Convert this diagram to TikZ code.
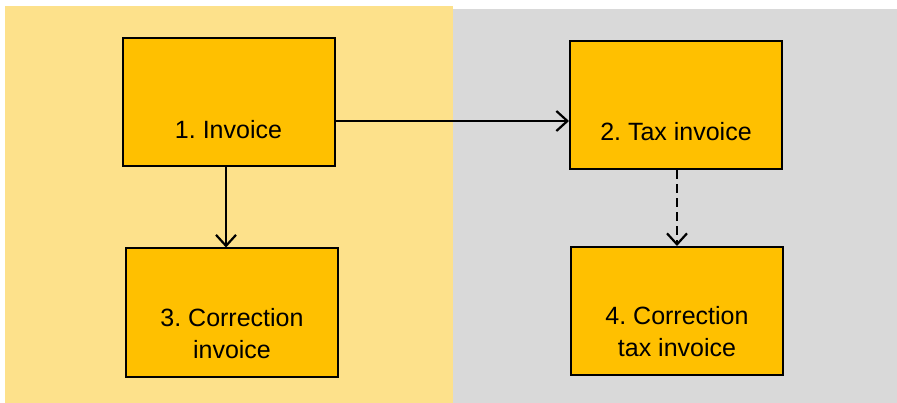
\documentclass[tikz,border=0pt]{standalone}
\usepackage{fontspec}
\setmainfont{Liberation Sans}
\usetikzlibrary{arrows.meta}
\definecolor{lefty}{HTML}{FDE18B}
\definecolor{righty}{HTML}{D9D9D9}
\definecolor{boxy}{HTML}{FFC000}
\frenchspacing
\tikzset{
  boxnode/.style={draw=black, line width=2pt, fill=boxy, minimum width=212pt, minimum height=128pt, inner sep=0pt},
  txt/.style={font=\fontsize{25}{32}\selectfont\frenchspacing, align=center, inner sep=0pt},
  conn/.style={line width=2.2pt, -{Straight Barb[length=11pt,width=20pt,line width=2.2pt]}},
  dashconn/.style={conn, dash pattern=on 9pt off 5pt}
}
\begin{document}
\begin{tikzpicture}[x=1pt,y=-1pt]
\useasboundingbox (0,0) rectangle (897,403);
\fill[lefty] (5,6) rectangle (453,403);
\fill[righty] (453,9) rectangle (897,403);
\node[boxnode] (b1) at (228.5,102.5) {};
\node[boxnode] (b2) at (676,105.5) {};
\node[boxnode] (b3) at (232,312.5) {};
\node[boxnode] (b4) at (677,311) {};
\node[txt, anchor=base] (t1) at (228.5,139) {1. Invoice};
\node[txt, anchor=base] (t2) at (676,141) {2. Tax invoice};
\node[txt, anchor=base] (t3) at (232,358) {3. Correction\\invoice};
\node[txt, anchor=base] (t4) at (677,356) {4. Correction\\tax invoice};
\draw[conn] (b1.east |- 0,121) -- (b2.west |- 0,121);
\draw[conn] (b1.south -| 226,0) -- (b3.north -| 226,0);
\draw[dashconn] (b2.south -| 677,0) -- (b4.north -| 677,0);
\end{tikzpicture}
\end{document}
